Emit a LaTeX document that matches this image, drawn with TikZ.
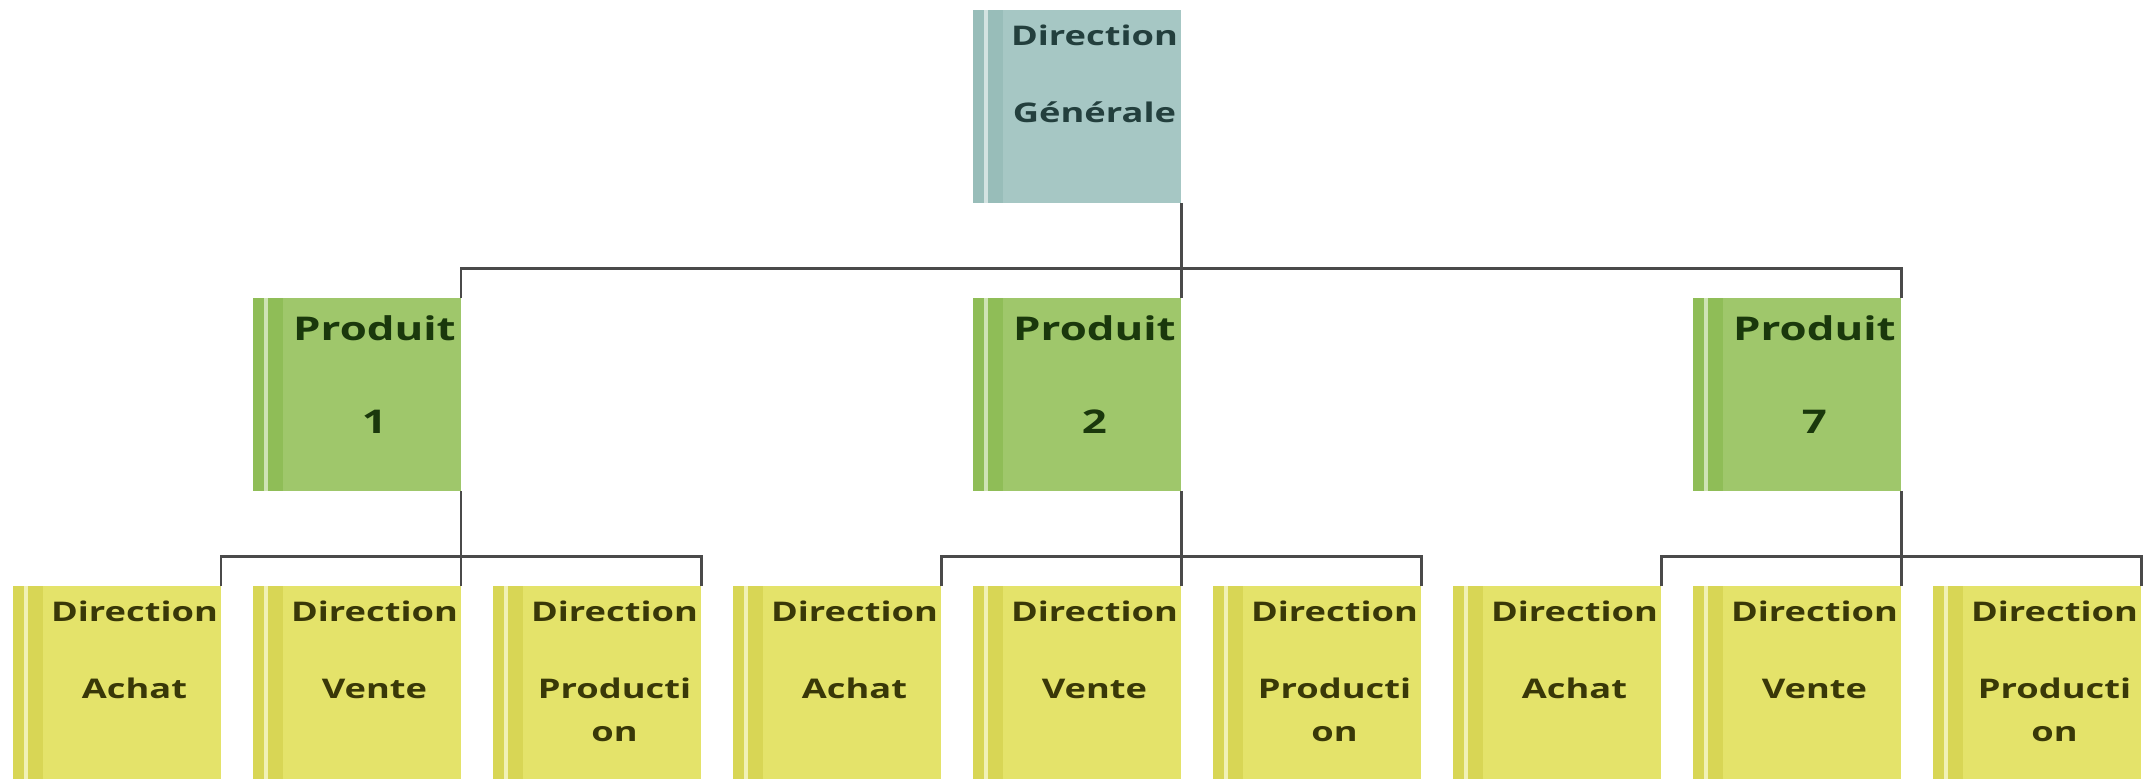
\documentclass[tikz,border=0pt]{standalone}
\usepackage{fontspec}
\usetikzlibrary{matrix}
\newfontfamily\boxfont{Open Sans}[FakeStretch=1.34]
\definecolor{topfill}{HTML}{A6C7C4}
\definecolor{topside}{HTML}{98BDB9}
\definecolor{toptext}{HTML}{233F3D}
\definecolor{prodfill}{HTML}{9FC76B}
\definecolor{prodside}{HTML}{8FBD57}
\definecolor{prodtext}{HTML}{1A380C}
\definecolor{dirfill}{HTML}{E4E36A}
\definecolor{dirside}{HTML}{D8D655}
\definecolor{dirtext}{HTML}{393808}
\definecolor{linkgray}{HTML}{4A4A4A}
\newcommand{\boxtext}[2]{\hspace*{0.35cm}\parbox[c][1.93cm][t]{1.73cm}{\centering
  \baselineskip=1.6em\parskip=0pt\rule{0pt}{1.3em}#1\par\vspace{1.25em}#2}}

\begin{document}
\begin{tikzpicture}[
  sidebar/.style 2 args={path picture={
    \fill[#1] (path picture bounding box.south west) rectangle
      ([xshift=0.3cm]path picture bounding box.north west);
    \draw[#2, line width=0.4mm] ([xshift=0.13cm]path picture bounding box.south west)
      -- ([xshift=0.13cm]path picture bounding box.north west);}},
  dirbox/.style={rectangle, inner sep=0pt, outer sep=0pt, fill=dirfill, text=dirtext,
    font=\boxfont\bfseries\fontsize{7.7}{9}\selectfont, sidebar={dirside}{dirfill!50!white}},
  prodbox/.style={fill=prodfill, text=prodtext,
    font=\boxfont\bfseries\fontsize{9.3}{11}\selectfont, sidebar={prodside}{prodfill!50!white}},
  topbox/.style={fill=topfill, text=toptext,
    font=\boxfont\bfseries\fontsize{7.7}{9}\selectfont, sidebar={topside}{topfill!50!white}},
  orgline/.style={draw=linkgray, line width=0.85pt, line join=miter}
]
\useasboundingbox (0,0) rectangle (21.52,7.78);

\matrix[matrix of nodes, column sep=0.32cm, row sep=0.95cm,
        inner sep=0pt, outer sep=0pt, anchor=north west,
        nodes={dirbox},
        row 1/.style={nodes={topbox}},
        row 2/.style={nodes={prodbox}}
       ] (mat) at (0.13,7.68)
{
    & & & & \boxtext{Direction}{Générale} & & & & \\
    & \boxtext{Produit}{1} & & & \boxtext{Produit}{2} & & & \boxtext{Produit}{7} & \\
    \boxtext{Direction}{Achat} & \boxtext{Direction}{Vente} & \boxtext{Direction}{Producti\par on} &
    \boxtext{Direction}{Achat} & \boxtext{Direction}{Vente} & \boxtext{Direction}{Producti\par on} &
    \boxtext{Direction}{Achat} & \boxtext{Direction}{Vente} & \boxtext{Direction}{Producti\par on} \\
};

\coordinate (bus-top) at ([yshift=-0.65cm]mat-1-5.south east);
\draw[orgline] (mat-1-5.south east) -- (bus-top);
\draw[orgline] (mat-2-2.north east) |- (bus-top) -| (mat-2-8.north east);
\draw[orgline] (mat-2-5.north east) -- (bus-top);

\foreach \achat/\vente/\prod in {1/2/3, 4/5/6, 7/8/9}
{
    \coordinate (bus-\vente) at ([yshift=-0.65cm]mat-2-\vente.south east);
    \draw[orgline] (mat-2-\vente.south east) -- (mat-3-\vente.north east);
    \draw[orgline] (mat-3-\achat.north east) |- (bus-\vente) -| (mat-3-\prod.north east);
}

\end{tikzpicture}
\end{document}
